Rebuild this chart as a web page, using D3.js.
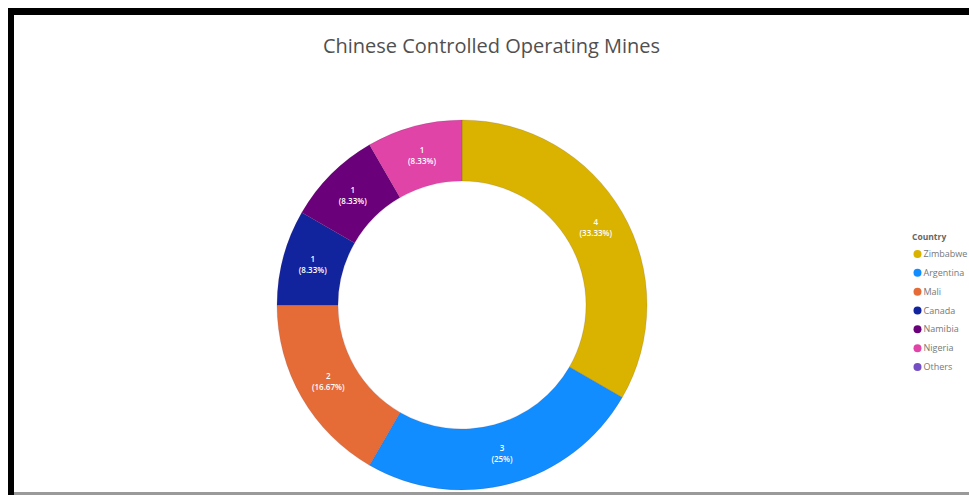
<!DOCTYPE html>
<html>
<head>
<meta charset="utf-8">
<script src="https://cdn.jsdelivr.net/npm/d3@7"></script>
<style>
  html, body { margin: 0; padding: 0; background: #fff; overflow: hidden; }
  svg { display: block; }
</style>
</head>
<body>
<svg id="chart" width="969" height="495"></svg>
<script>
// Operating mines under Chinese control, by country
const countries = ["Zimbabwe", "Argentina", "Mali", "Canada", "Namibia", "Nigeria", "Others"];
const mineCounts = [4, 3, 2, 1, 1, 1, 0];
const sliceColors = ["#D9B300", "#118DFF", "#E66C37", "#12239E", "#6B007B", "#E044A7", "#744EC2"];
const chartTitle = "Chinese Controlled Operating Mines";
const legendTitle = "Country";

const svg = d3.select("#chart");
const W = 969, H = 495;

// Report frame
svg.append("rect").attr("x", 0).attr("y", 0).attr("width", W).attr("height", H).attr("fill", "#fff");
svg.append("line").attr("x1", 8).attr("x2", W).attr("y1", 11.5).attr("y2", 11.5)
  .attr("stroke", "#000").attr("stroke-width", 7);
svg.append("line").attr("x1", 11).attr("x2", 11).attr("y1", 8).attr("y2", H)
  .attr("stroke", "#000").attr("stroke-width", 6);
svg.append("line").attr("x1", 14).attr("x2", W).attr("y1", 493.5).attr("y2", 493.5)
  .attr("stroke", "#9a9a9a").attr("stroke-width", 3);

// Title
svg.append("text")
  .attr("x", 491.5).attr("y", 53)
  .attr("text-anchor", "middle")
  .attr("font-family", "'Open Sans', 'Noto Sans', sans-serif")
  .attr("font-size", 20)
  .attr("fill", "#505050")
  .text(chartTitle);

// Donut
const cx = 462, cy = 305, rOuter = 185, rInner = 124;
const total = d3.sum(mineCounts);
const data = countries.map((c, i) => ({ country: c, value: mineCounts[i], color: sliceColors[i] }));

const pie = d3.pie().sort(null).value(d => d.value);
const arc = d3.arc().innerRadius(rInner).outerRadius(rOuter);
const labelArc = d3.arc().innerRadius((rInner + rOuter) / 2).outerRadius((rInner + rOuter) / 2);

const g = svg.append("g").attr("transform", `translate(${cx},${cy})`);
const arcs = pie(data).filter(d => d.data.value > 0);

g.selectAll("path.slice")
  .data(arcs)
  .enter().append("path")
  .attr("class", "slice")
  .attr("d", arc)
  .attr("fill", d => d.data.color)
  .attr("stroke", "rgba(80,40,80,0.25)")
  .attr("stroke-width", 0.6);

const pct = d3.format(".2~f");
const labels = g.selectAll("g.lbl")
  .data(arcs)
  .enter().append("g")
  .attr("class", "lbl")
  .attr("transform", d => `translate(${labelArc.centroid(d)})`);

labels.append("text")
  .attr("y", -3)
  .attr("text-anchor", "middle")
  .attr("font-family", "'Open Sans', sans-serif")
  .attr("font-size", 8)
  .attr("font-weight", 600)
  .attr("fill", "#fff")
  .text(d => d.data.value);

labels.append("text")
  .attr("y", 8)
  .attr("text-anchor", "middle")
  .attr("font-family", "'Open Sans', sans-serif")
  .attr("font-size", 8)
  .attr("font-weight", 600)
  .attr("fill", "#fff")
  .text(d => "(" + pct(d.data.value / total * 100) + "%)");

// Legend
const lg = svg.append("g").attr("transform", "translate(912,0)");
lg.append("text")
  .attr("x", 0).attr("y", 240)
  .attr("font-family", "'Open Sans', sans-serif")
  .attr("font-size", 8.5)
  .attr("font-weight", "bold")
  .attr("fill", "#666")
  .text(legendTitle);

const legendY = d3.scalePoint().domain(countries).range([254, 367]);
const items = lg.selectAll("g.item")
  .data(data)
  .enter().append("g")
  .attr("class", "item")
  .attr("transform", d => `translate(0,${legendY(d.country)})`);

items.append("circle")
  .attr("cx", 5.5).attr("cy", 0).attr("r", 4)
  .attr("fill", d => d.color);

items.append("text")
  .attr("x", 11.5).attr("y", 3)
  .attr("font-family", "'Open Sans', sans-serif")
  .attr("font-size", 9)
  .attr("fill", "#777")
  .text(d => d.country);
</script>
</body>
</html>
